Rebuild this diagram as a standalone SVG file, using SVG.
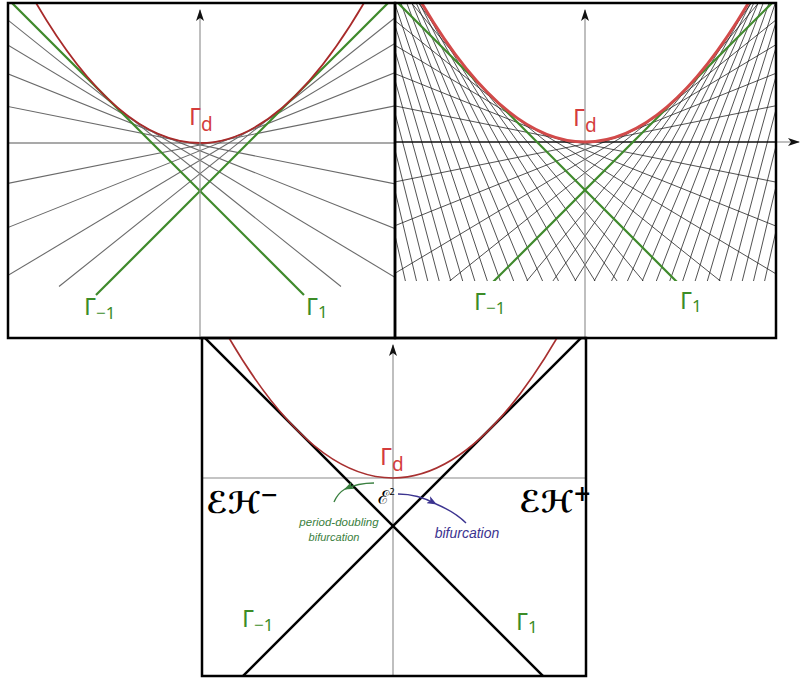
<svg xmlns="http://www.w3.org/2000/svg" width="804" height="679" viewBox="0 0 804 679">
<style>
.frame{fill:none;stroke:#000;stroke-width:2.5}
.axis{fill:none;stroke:#8a8a8a;stroke-width:1.1}
.gl{fill:none;stroke:#6a6a6a;stroke-width:1.1}
.bl{fill:none;stroke:#262626;stroke-width:0.8}
.gr{fill:none;stroke:#3f8a2c;stroke-width:2.2}
.lbl{font-family:"Noto Sans","DejaVu Sans",sans-serif;}
.red{fill:#d43c3c}
.grn{fill:#3c8c28}
.ann{font-family:"Liberation Sans","DejaVu Sans",sans-serif;font-style:italic}
.eh{font-family:"DejaVu Serif","DejaVu Sans",serif;font-weight:bold;font-style:italic;fill:#000}
</style>
<defs>
<clipPath id="cL"><rect x="8" y="3" width="387" height="335"/></clipPath>
<clipPath id="cR"><rect x="395" y="3" width="381" height="278"/></clipPath>
<clipPath id="cRp"><rect x="395" y="3" width="381" height="335"/></clipPath>
<clipPath id="cB"><rect x="202" y="338" width="384" height="338"/></clipPath>
<marker id="axarr" markerUnits="userSpaceOnUse" markerWidth="12" markerHeight="8" viewBox="0 0 12 8" refX="11" refY="4" orient="auto"><path d="M0,0 L12,4 L0,8 L3,4 Z" fill="#111"/></marker>
<marker id="garr" markerUnits="userSpaceOnUse" markerWidth="10" markerHeight="8" viewBox="0 0 10 8" refX="9" refY="4" orient="auto"><path d="M0,0 L10,4 L0,8 L2.5,4 Z" fill="#3a8040"/></marker>
<marker id="barr" markerUnits="userSpaceOnUse" markerWidth="10" markerHeight="8" viewBox="0 0 10 8" refX="9" refY="4" orient="auto"><path d="M0,0 L10,4 L0,8 L2.5,4 Z" fill="#3c3490"/></marker>
</defs>
<rect width="804" height="679" fill="#fff"/>

<!-- top-left panel -->
<g id="panel-left">
 <g clip-path="url(#cL)">
  <g class="gl">
   <path d="M4,184.12 L396,105.72"/>
   <path d="M4,229.08 L396,72.28"/>
   <path d="M4,277.88 L396,42.68"/>
   <path d="M59,286.52 L396,16.92"/>
   <path d="M396,184.12 L4,105.72"/>
   <path d="M396,229.08 L4,72.28"/>
   <path d="M396,277.88 L4,42.68"/>
   <path d="M341,286.52 L4,16.92"/>
  </g>
  <path d="M7,143 L395,143" fill="none" stroke="#555" stroke-width="1.2"/>
  <path class="gr" d="M96,295 L396,-5"/>
  <path class="gr" d="M304,295 L4,-5"/>
  <path d="M25,-16.5 Q200,302.5 375,-16.5" fill="none" stroke="#a82a2a" stroke-width="1.8"/>
 </g>
 <path class="axis" d="M200,340 L200,10" marker-end="url(#axarr)"/>
 <rect class="frame" x="8" y="3" width="387" height="335"/>
 <text class="lbl red" x="189" y="125" font-size="24">Γ<tspan font-size="19" dy="6">d</tspan></text>
 <text class="lbl grn" x="84" y="315" font-size="24">Γ<tspan font-size="17" dy="4">−1</tspan></text>
 <text class="lbl grn" x="306" y="315" font-size="24">Γ<tspan font-size="17" dy="3">1</tspan></text>
</g>

<!-- top-right panel -->
<g id="panel-right">
 <g clip-path="url(#cR)" class="bl">
  <path d="M394,182.12 L776,105.72"/><path d="M394,105.72 L776,182.12"/>
  <path d="M394,226.08 L776,73.28"/><path d="M394,73.28 L776,226.08"/>
  <path d="M394,273.88 L776,44.68"/><path d="M394,44.68 L776,273.88"/>
  <path d="M394,325.52 L776,19.92"/><path d="M394,19.92 L776,325.52"/>
  <path d="M394,440.32 L776,-18.08"/><path d="M394,-18.08 L776,440.32"/>
  <path d="M394,503.48 L776,-31.32"/><path d="M394,-31.32 L776,503.48"/>
  <path d="M394,570.48 L776,-40.72"/><path d="M394,-40.72 L776,570.48"/>
  <path d="M394,641.32 L776,-46.28"/><path d="M394,-46.28 L776,641.32"/>
  <path d="M394,716 L776,-48"/><path d="M394,-48 L776,716"/>
  <path d="M394,794.52 L776,-45.88"/><path d="M394,-45.88 L776,794.52"/>
  <path d="M394,876.88 L776,-39.92"/><path d="M394,-39.92 L776,876.88"/>
  <path d="M394,963.08 L776,-30.12"/><path d="M394,-30.12 L776,963.08"/>
  <path d="M394,1053.12 L776,-16.48"/><path d="M394,-16.48 L776,1053.12"/>
  <path d="M394,1147 L776,1"/><path d="M394,1 L776,1147"/>
  <path d="M394,1244.72 L776,22.32"/><path d="M394,22.32 L776,1244.72"/>
  <path d="M394,1346.28 L776,47.48"/><path d="M394,47.48 L776,1346.28"/>
  <path d="M394,1451.68 L776,76.48"/><path d="M394,76.48 L776,1451.68"/>
  <path d="M394,1560.92 L776,109.32"/><path d="M394,109.32 L776,1560.92"/>
  <path d="M394,1674 L776,146"/><path d="M394,146 L776,1674"/>
  <path d="M394,1790.92 L776,186.52"/><path d="M394,186.52 L776,1790.92"/>
  <path d="M394,1911.68 L776,230.88"/><path d="M394,230.88 L776,1911.68"/>
  <path d="M394,2036.28 L776,279.08"/><path d="M394,279.08 L776,2036.28"/>
 </g>
 <path class="axis" d="M585,340 L585,10" marker-end="url(#axarr)"/>
 <path class="axis" d="M776,142 L799,142" marker-end="url(#axarr)"/>
 <path d="M395,142 L776,142" fill="none" stroke="#111" stroke-width="1.4"/>
 <g clip-path="url(#cR)">
  <path class="gr" d="M394,381 L776,-1" stroke-width="2.4"/>
  <path class="gr" d="M394,-1 L776,381" stroke-width="2.4"/>
 </g>
 <path clip-path="url(#cRp)" d="M410,-17.5 Q585,301.5 760,-17.5" fill="none" stroke="#d24a4a" stroke-width="3"/>
 <rect class="frame" x="395" y="3" width="381" height="335"/>
 <text class="lbl red" x="573" y="126" font-size="24">Γ<tspan font-size="19" dy="6">d</tspan></text>
 <text class="lbl grn" x="474" y="310" font-size="24">Γ<tspan font-size="17" dy="4">−1</tspan></text>
 <text class="lbl grn" x="680" y="309" font-size="24">Γ<tspan font-size="17" dy="3">1</tspan></text>
</g>

<!-- bottom panel -->
<g id="panel-bottom">
 <path class="axis" d="M202,478 L587,478" stroke-width="1.6"/>
 <path class="axis" d="M393,677 L393,345" marker-end="url(#axarr)"/>
 <g clip-path="url(#cB)">
  <path d="M190,323 L560,693" fill="none" stroke="#000" stroke-width="2.5"/>
  <path d="M596,323 L226,693" fill="none" stroke="#000" stroke-width="2.5"/>
  <path d="M218,318.5 Q393,637.5 568,318.5" fill="none" stroke="#a83030" stroke-width="1.7"/>
 </g>
 <rect class="frame" x="202" y="338" width="384" height="338"/>
 <text class="lbl red" x="380" y="465" font-size="24">Γ<tspan font-size="19" dy="6">d</tspan></text>
 <text class="lbl grn" x="242" y="627" font-size="24">Γ<tspan font-size="17" dy="4">−1</tspan></text>
 <text class="lbl grn" x="516" y="630" font-size="24">Γ<tspan font-size="17" dy="3">1</tspan></text>
 <text class="eh" x="206" y="513" font-size="30">ℰℋ<tspan font-size="22" dy="-11">−</tspan></text>
 <text class="eh" x="519" y="512" font-size="30">ℰℋ<tspan font-size="22" dy="-11">+</tspan></text>
 <text class="lbl" x="378" y="504" font-size="19" fill="#000">ℰ<tspan font-size="9" dy="-9">2</tspan></text>
 <text class="ann" x="339" y="526" font-size="11.5" fill="#3a8040" text-anchor="middle">period-doubling</text>
 <text class="ann" x="334" y="541" font-size="11" fill="#3a8040" text-anchor="middle">bifurcation</text>
 <text class="ann" x="467" y="538" font-size="14" fill="#3c3490" text-anchor="middle">bifurcation</text>
</g>

<!-- connectors (annotation arrows) -->
<g id="connectors" fill="none" stroke-width="1.4">
 <path d="M374,483 Q358,483 345,489" stroke="#3a8040" marker-end="url(#garr)"/>
 <path d="M345,489 Q338,493 334,502" stroke="#3a8040"/>
 <path d="M398,494 Q418,494 436,504" stroke="#3c3490" marker-end="url(#barr)"/>
 <path d="M436,504 Q455,512 466,523" stroke="#3c3490"/>
</g>
</svg>
